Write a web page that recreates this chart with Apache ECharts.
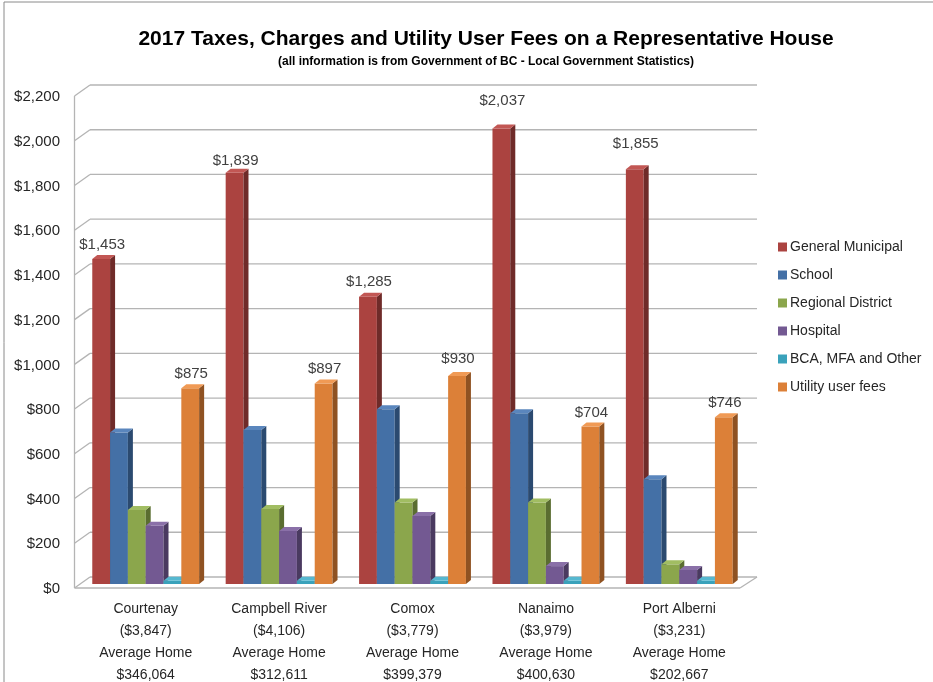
<!DOCTYPE html>
<html>
<head>
<meta charset="utf-8">
<script src="https://cdn.jsdelivr.net/npm/echarts@6/dist/echarts.min.js"></script>
<style>
html,body{margin:0;padding:0;background:#fff;}
#chart{width:933px;height:682px;}
</style>
</head>
<body>
<div id="chart"></div>
<script>
// ---- data ----
const cities = ['Courtenay', 'Campbell River', 'Comox', 'Nanaimo', 'Port Alberni'];
const totals = ['($3,847)', '($4,106)', '($3,779)', '($3,979)', '($3,231)'];
const avgHomes = ['$346,064', '$312,611', '$399,379', '$400,630', '$202,667'];
const seriesNames = ['General Municipal', 'School', 'Regional District', 'Hospital', 'BCA, MFA and Other', 'Utility user fees'];
const generalMunicipal = [1453, 1839, 1285, 2037, 1855];
const school = [677, 689, 781, 763, 468];
const regionalDistrict = [331, 335, 364, 364, 88];
const hospital = [261, 237, 304, 80, 63];
const bcaOther = [14, 14, 14, 14, 14];
const utilityFees = [875, 897, 930, 704, 746];
const yTicks = [0, 200, 400, 600, 800, 1000, 1200, 1400, 1600, 1800, 2000, 2200];

// label placement (style): pixels between bar top and label centre
const labelLift = [[14, 12, 15, 28, 25], null, null, null, null, [14, 15, 17, 14, 14]];

const seriesValues = [generalMunicipal, school, regionalDistrict, hospital, bcaOther, utilityFees];
const colors = [
  {front: '#ab4340', side: '#6f2b29', top: '#c25754'},
  {front: '#4470a6', side: '#2b4a70', top: '#5a86bd'},
  {front: '#8ba64c', side: '#5a6d30', top: '#a1bd62'},
  {front: '#735992', side: '#4a3a60', top: '#8a70a8'},
  {front: '#3aa2bb', side: '#256b7c', top: '#56b8d0'},
  {front: '#dc8038', side: '#8f5222', top: '#f09a55'}
];

const DX = 5, DY = -4;
const FONT = '"Liberation Sans", Arial, sans-serif';

function fmt(v) { return '$' + v.toLocaleString('en-US'); }

const chart = echarts.init(document.getElementById('chart'));

function barRenderer(si) {
  return function (params, api) {
    const ci = api.value(0);
    const v = api.value(1);
    const top = api.coord([ci, v]);
    const base = api.coord([ci, 0]);
    const band = api.size([1, 0])[0];
    const bw = band * 0.1335;
    const x0 = top[0] - 3 * bw + si * bw;
    const x1 = x0 + bw;
    const yT = top[1], yB = base[1];
    const c = colors[si];
    const children = [
      {type: 'rect', shape: {x: x0, y: yT, width: bw, height: yB - yT}, style: {fill: c.front}},
      {type: 'polygon', shape: {points: [[x1, yT], [x1 + DX, yT + DY], [x1 + DX, yB + DY], [x1, yB]]}, style: {fill: c.side}},
      {type: 'polygon', shape: {points: [[x0, yT], [x1, yT], [x1 + DX, yT + DY], [x0 + DX, yT + DY]]}, style: {fill: c.top}}
    ];
    if (labelLift[si]) {
      children.push({type: 'text', style: {text: fmt(v), x: x0 + bw / 2 + 1, y: yT - labelLift[si][params.dataIndex], align: 'center', verticalAlign: 'middle', font: '15px ' + FONT, fill: '#404040'}});
    }
    return {type: 'group', children: children};
  };
}

function wallRenderer(params, api) {
  const v = api.value(0);
  const cs = params.coordSys;
  const y = api.coord([0, v])[1];
  const xl = cs.x, xr = cs.x + cs.width;
  const stroke = {stroke: '#b4b4b4', lineWidth: 1.3};
  const children = [
    {type: 'line', shape: {x1: xl + 11, y1: y - 7, x2: xr + 11, y2: y - 7}, style: stroke},
    {type: 'line', shape: {x1: xl - 4.5, y1: y + 4, x2: xl + 11, y2: y - 7}, style: stroke},
    {type: 'text', style: {text: fmt(v), x: 60, y: y + 5, align: 'right', verticalAlign: 'middle', font: '15px ' + FONT, fill: '#262626'}}
  ];
  if (v === 0) {
    const yTop = api.coord([0, yTicks[yTicks.length - 1]])[1];
    children.push({type: 'line', shape: {x1: xl - 4.5, y1: y + 4, x2: xr - 6, y2: y + 4}, style: stroke});
    children.push({type: 'line', shape: {x1: xr - 6, y1: y + 4, x2: xr + 11, y2: y - 7}, style: stroke});
    children.push({type: 'line', shape: {x1: xl - 4.5, y1: yTop + 4, x2: xl - 4.5, y2: y + 4}, style: stroke});
  }
  return {type: 'group', children: children};
}

const series = [{
  type: 'custom',
  name: 'walls',
  silent: true,
  z: 1,
  renderItem: wallRenderer,
  encode: {y: 0},
  data: yTicks.map(v => [v])
}];
seriesNames.forEach((name, si) => {
  series.push({
    type: 'custom',
    name: name,
    z: 2,
    itemStyle: {color: colors[si].front},
    renderItem: barRenderer(si),
    encode: {x: 0, y: 1},
    data: seriesValues[si].map((v, ci) => [ci, v])
  });
});

chart.setOption({
  animation: false,
  title: {
    text: '2017 Taxes, Charges and Utility User Fees on a Representative House',
    subtext: '(all information is from Government of BC - Local Government Statistics)',
    left: 481,
    top: 24,
    textAlign: 'center',
    itemGap: 6,
    textStyle: {fontFamily: FONT, fontWeight: 'bold', fontSize: 21, color: '#000'},
    subtextStyle: {fontFamily: FONT, fontWeight: 'bold', fontSize: 12, color: '#000'}
  },
  legend: {
    data: seriesNames,
    orient: 'vertical',
    left: 773,
    top: 235,
    itemGap: 14,
    itemWidth: 9,
    itemHeight: 9,
    icon: 'rect',
    textStyle: {fontFamily: FONT, fontSize: 14, color: '#262626', padding: [0, 0, 0, -2]}
  },
  graphic: [{
    type: 'rect', silent: true, z: -1,
    shape: {x: 4, y: 2, width: 940, height: 700},
    style: {fill: 'none', stroke: '#8a8a8a', lineWidth: 1}
  }],
  grid: {left: 79, right: 187, top: 92, bottom: 98, containLabel: false, outerBoundsMode: 'none'},
  xAxis: {
    type: 'category',
    data: cities,
    axisLine: {show: false},
    axisTick: {show: false},
    axisLabel: {
      margin: 14,
      interval: 0,
      fontFamily: FONT,
      fontSize: 14,
      color: '#262626',
      lineHeight: 22,
      formatter: function (val, idx) {
        return [cities[idx], totals[idx], 'Average Home', avgHomes[idx]].join('\n');
      }
    }
  },
  yAxis: {
    type: 'value',
    min: 0,
    max: 2200,
    interval: 200,
    axisLine: {show: false},
    axisTick: {show: false},
    splitLine: {show: false},
    axisLabel: {show: false}
  },
  series: series
});
</script>
</body>
</html>
